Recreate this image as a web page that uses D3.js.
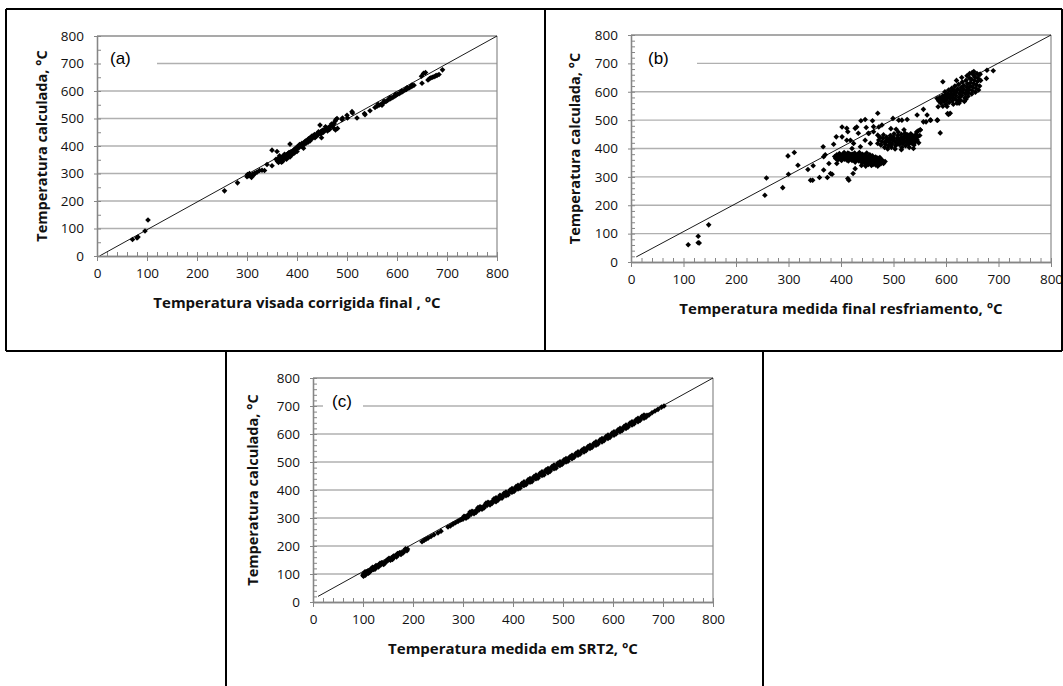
<!DOCTYPE html>
<html>
<head>
<meta charset="utf-8">
<script src="https://cdn.jsdelivr.net/npm/d3@7"></script>
<style>
  body { margin: 0; background: #fff; }
  svg { display: block; }
</style>
</head>
<body>
<svg id="chart" width="1063" height="686"></svg>
<script>
// tick values shared by the three panels
var xTicks = [0, 100, 200, 300, 400, 500, 600, 700, 800];
var yTicks = [0, 100, 200, 300, 400, 500, 600, 700, 800];

// (a) temperatura visada corrigida final vs calculada
var aPoints = [
  [71,60],[80,66],[82,69],[96,91],[102,131],[255,237],[281,266],
  [300,288],[301,296],[303,292],[305,300],[307,290],[309,286],[310,294],[312,298],[314,296],[316,302],
  [320,305],[325,311],[330,312],[335,311],[340,333],[350,385],[350,328],[358,352],[360,380],[361,345],
  [363,340],[364,356],[366,350],[368,346],[369,341],[370,360],[372,352],[374,362],[376,355],[378,365],
  [380,368],[382,372],[384,376],[386,360],[386,407],[388,366],[390,380],[392,378],[394,386],[396,390],
  [398,392],[400,380],[401,398],[403,400],[405,405],[407,402],[410,410],[413,392],[415,414],[417,418],
  [419,415],[421,421],[423,426],[425,428],[426,418],[428,432],[430,436],[432,434],[434,438],[436,430],
  [438,441],[440,444],[442,440],[444,448],[446,476],[447,452],[449,430],[450,455],[452,458],[454,457],
  [456,460],[458,463],[460,465],[462,462],[464,468],[466,470],[468,472],[470,474],[472,478],[474,482],
  [476,490],[477,458],[478,496],[480,500],[481,464],[490,496],[491,502],[500,512],[501,502],[510,525],
  [511,520],[520,502],[535,518],[536,514],[546,528],[556,540],[560,545],[564,548],[568,552],[570,548],
  [572,556],[575,560],[578,562],[581,566],[584,570],[587,572],[590,576],[593,578],[596,582],[598,585],
  [601,588],[604,590],[607,594],[610,597],[613,600],[616,604],[619,606],[622,610],[625,612],[628,616],
  [631,618],[634,621],[649,654],[650,628],[653,664],[657,667],[662,640],[665,645],[668,648],[671,650],
  [674,652],[677,655],[680,657],[684,660],[691,677],
  [365,364],[371,344],[375,370],[379,352],[383,362],[387,378],[391,370],[395,375],[399,388],[404,394],
  [409,400],[414,405],[418,410],[422,414],[427,424],[431,428],[435,442],[439,436],[443,452],[448,444],
  [453,450],[457,470],[461,455],[465,460],[469,480],[473,466],[562,552],[574,563],[586,576],[597,588],
  [609,600],[620,612],[630,622]
];

// (b) temperatura medida final resfriamento vs calculada
var bPoints = [
  [109,61],[128,91],[128,68],[130,67],[148,131],[255,235],[258,296],[289,262],[299,374],[300,309],
  [311,386],[318,341],[337,326],[342,288],[346,288],[347,339],[359,298],[366,406],[367,324],[367,371],
  [370,378],[374,298],[377,347],[380,312],[383,309],[386,415],[391,441],[392,347],
  [402,476],[402,441],[411,471],[413,459],[418,429],[427,471],[430,476],[438,498],[446,502],[460,498],
  [470,524],[453,453],[462,459],[472,476],[411,429],[421,400],[424,418],[437,406],[446,429],[456,418],
  [415,288],[413,294],[423,312],[427,329],[433,454],[448,474],[452,454],[462,477],[470,447],[478,483],
  // cluster near 370
  [388,372],[390,365],[392,378],[394,360],[395,370],[397,382],[398,366],[400,374],[401,358],[403,380],
  [404,368],[406,386],[407,362],[409,372],[410,378],[412,366],[413,384],[414,356],[416,374],[417,364],
  [419,380],[420,370],[421,358],[423,376],[424,366],[426,384],[427,352],[428,372],[430,362],[431,378],
  [433,368],[434,356],[435,386],[437,374],[438,362],[440,350],[441,380],[442,368],[444,358],[445,376],
  [446,346],[448,366],[449,384],[450,354],[452,372],[453,362],[455,378],[456,348],[457,368],[459,358],
  [460,374],[461,344],[463,364],[464,352],[466,370],[467,360],[469,348],[470,366],[472,356],[473,344],
  [475,362],[477,352],[479,358],[481,347],[484,354],[399,362],[405,376],[411,360],[415,382],[418,368],
  [422,380],[425,360],[429,368],[432,374],[436,366],[439,372],[443,362],[447,370],[451,366],[454,358],
  [458,364],[462,368],[465,358],[468,362],[471,350],[474,368],[476,346],[396,376],[408,370],[439,340],
  [447,338],[452,344],[458,340],[466,342],[470,338],
  // cluster near 430
  [470,418],[472,430],[474,440],[476,412],[478,424],[480,436],[481,448],[483,404],[484,416],[486,428],
  [487,440],[489,398],[490,410],[492,422],[493,434],[494,446],[496,404],[497,416],[499,428],[500,440],
  [501,452],[503,398],[504,410],[505,422],[507,434],[508,446],[509,458],[511,414],[512,426],[514,438],
  [515,450],[516,404],[518,418],[519,430],[520,442],[522,454],[523,410],[525,424],[526,436],[527,448],
  [529,416],[530,428],[532,440],[533,452],[534,420],[536,432],[537,444],[539,412],[540,426],[541,438],
  [543,450],[545,430],[546,442],[548,420],[550,446],[485,422],[491,430],[495,418],[498,436],[502,426],
  [506,416],[510,432],[513,420],[517,436],[521,426],[524,442],[528,432],[531,420],[535,446],[538,436],
  [542,424],[544,458],[547,462],[551,466],[495,470],[505,468],[520,466],[515,396],[530,404],[538,400],
  [499,506],[510,500],[516,500],[526,502],[545,441],[551,465],[557,494],[564,518],[570,500],[583,500],
  [589,455],[557,538],[545,518],[562,494],[571,500],[584,500],
  // cluster near 600
  [583,576],[585,547],[594,635],[594,549],[603,523],[605,520],[608,524],
  [586,568],[588,580],[590,560],[592,574],[594,586],[596,566],[597,578],[599,590],[600,556],[601,570],
  [603,582],[604,594],[606,562],[607,576],[609,588],[610,600],[612,568],[613,580],[615,592],[616,604],
  [618,574],[619,586],[620,598],[622,610],[623,568],[625,580],[626,592],[627,604],[629,616],[630,586],
  [632,598],[633,610],[634,622],[636,578],[637,592],[639,604],[640,616],[641,628],[643,596],[644,608],
  [646,620],[647,632],[648,644],[650,604],[651,616],[653,628],[654,640],[655,652],[657,612],[658,624],
  [660,636],[661,648],[663,660],[664,620],[666,640],[598,600],[605,606],[611,612],[617,620],[624,626],
  [631,634],[638,640],[645,648],[652,660],[659,664],[602,548],[614,556],[621,560],[628,570],[635,566],
  [642,584],[649,592],[656,598],[662,606],[620,640],[630,650],[640,656],[650,668],[653,671],[645,664],
  [625,560],[638,574],[665,662],[677,647],[678,676],[690,674]
];

// (c) temperatura medida em SRT2 vs calculada
var cPoints = [
  [100,95],[101,100],[102,97],[103,103],[104,99],[106,102],[108,104],[110,107],[112,110],[114,111],
  [116,114],[118,115],[120,118],[122,121],[125,122],[127,126],[130,128],[133,131],[136,133],[139,138],
  [142,140],[145,144],[148,146],[151,150],[154,152],[157,156],[160,158],[163,162],[166,164],[170,168],
  [174,172],[178,177],[182,180],[186,186],[188,183],[189,189],
  [101,92],[105,96],[109,110],[113,106],[117,119],[121,116],[126,130],[131,125],[137,140],[143,137],
  [149,152],[155,149],[161,164],[167,161],[173,176],[180,175],[185,190],
  [218,215],[222,220],[226,224],[230,228],[236,234],[242,240],[250,247],[256,253],[270,268],[275,272],
  [280,278],[285,283],[290,288],[294,292],[297,295],
  [300,296],[304,305],[308,306],[312,314],[316,313],[320,322],[324,321],[328,330],[332,329],[336,338],
  [340,337],[344,346],[348,345],[352,354],[356,353],[360,362],[364,361],[368,370],[372,369],[376,378],
  [380,377],[384,386],[388,385],[392,394],[396,393],[400,402],[404,401],[408,410],[412,409],[416,418],
  [420,417],[424,426],[428,425],[432,434],[436,433],[440,442],[444,441],[448,450],[452,449],[456,458],
  [460,457],[464,466],[468,465],[472,474],[476,473],[480,482],[484,481],[488,490],[492,489],[496,498],
  [500,497],[504,506],[508,505],[512,514],[516,515],[520,521],[524,523],[528,529],[532,531],[536,537],
  [540,539],[544,545],[548,547],[552,553],[556,555],[560,561],[564,563],[568,569],[572,571],[576,577],
  [580,579],[584,585],[588,587],[592,593],[596,595],[600,601],[604,603],[608,609],[612,611],[616,617],
  [620,619],[624,625],[628,627],[632,633],[636,635],[640,641],[644,643],[648,649],[652,651],[656,657],
  [660,659],[664,665],[668,667],
  [306,299],[314,321],[322,315],[330,337],[338,331],[346,353],[354,347],[362,369],[366,358],[374,381],
  [378,371],[386,393],[390,382],[398,405],[402,395],[410,417],[414,406],[422,429],[426,419],[434,441],
  [438,430],[446,453],[450,442],[458,465],[462,454],[470,477],[474,466],[482,489],[486,478],[494,501],
  [498,491],[506,512],[510,503],[518,524],[522,516],[530,536],[534,528],[542,548],[546,540],[554,560],
  [558,552],[566,572],[570,564],[578,584],[582,576],[590,596],[594,588],[602,608],[606,600],[614,620],
  [618,612],[626,632],[630,624],[638,644],[642,636],[650,656],[654,648],[662,668],[666,660],
  [302,306],[310,304],[318,324],[326,320],[334,340],[342,336],[350,356],[358,352],[366,372],[370,364],
  [374,372],[382,388],[386,380],[394,400],[398,392],[406,412],[410,404],[418,424],[422,416],[430,436],
  [434,428],[442,448],[446,440],[454,460],[458,452],[466,472],[470,462],[478,484],[482,476],[490,496],
  [494,488],[502,508],[506,500],[514,519],[518,512],[526,531],[530,524],[538,543],[542,536],[550,555],
  [554,548],[562,567],[566,560],[574,579],[578,572],[586,591],[590,584],[598,603],[602,596],[610,615],
  [614,608],[622,627],[626,620],[634,639],[638,632],[646,651],[650,644],[658,663],[662,656],
  [104,108],[111,103],[119,124],[124,117],[134,138],[141,134],[152,156],[159,152],[169,173],[176,170],
  [672,668],[678,676],[684,682],[690,688],[697,696],[702,700]
];

// reference lines (y = x)
var aLine = [[5,0],[800,800]];
var bLine = [[10,18],[800,800]];
var cLine = [[10,20],[800,800]];

var svg = d3.select("#chart");
svg.append("rect").attr("width", 1063).attr("height", 686).attr("fill", "#fff");

var diamond = "M0,-2.8L2.8,0L0,2.8L-2.8,0Z";

function panel(p) {
  var x = d3.scaleLinear().domain([0, 800]).range([p.left, p.left + p.width]);
  var y = d3.scaleLinear().domain([0, 800]).range([p.top + p.height, p.top]);
  var g = svg.append("g");

  // gridlines
  g.selectAll(".grid").data(yTicks.slice(1, -1)).enter().append("line")
    .attr("x1", p.left).attr("x2", p.left + p.width)
    .attr("y1", function(d) { return y(d); }).attr("y2", function(d) { return y(d); })
    .attr("stroke", "#b0b0b0").attr("stroke-width", 1.3);
  // plot border top / right
  g.append("line").attr("x1", p.left).attr("x2", p.left + p.width)
    .attr("y1", y(800)).attr("y2", y(800)).attr("stroke", "#555").attr("stroke-width", 1.2);
  g.append("line").attr("x1", x(800)).attr("x2", x(800))
    .attr("y1", y(800)).attr("y2", y(0)).attr("stroke", "#8a8a8a").attr("stroke-width", 1.2);

  // label box
  g.append("rect").attr("x", p.gapX0).attr("y", y(700) - 3)
    .attr("width", p.gapX1 - p.gapX0).attr("height", 6).attr("fill", "#fff");
  g.append("text").attr("x", p.labelX).attr("y", p.labelY)
    .attr("font-family", "Liberation Sans, Arial, sans-serif").attr("font-size", 17)
    .attr("fill", "#000").text(p.label);

  // diagonal
  g.append("path").datum(p.line)
    .attr("d", d3.line().x(function(d) { return x(d[0]); }).y(function(d) { return y(d[1]); }))
    .attr("stroke", "#000").attr("stroke-width", 0.9).attr("fill", "none");

  // points
  g.selectAll(".pt").data(p.points).enter().append("path")
    .attr("d", diamond)
    .attr("transform", function(d) { return "translate(" + x(d[0]) + "," + y(d[1]) + ")"; })
    .attr("fill", "#000");

  // axes
  var minorX = d3.range(0, 801, 20);
  var minorY = d3.range(0, 801, p.minorY);
  var xa = g.append("g").attr("transform", "translate(0," + y(0) + ")");
  xa.call(d3.axisBottom(x).tickValues(minorX).tickSize(-4).tickSizeOuter(0).tickFormat(""));
  xa.call(function(s) {
    s.append("g").call(d3.axisBottom(x).tickValues(xTicks).tickSize(5).tickSizeOuter(0));
  });
  var ya = g.append("g").attr("transform", "translate(" + x(0) + ",0)");
  ya.call(d3.axisLeft(y).tickValues(minorY).tickSize(-4).tickSizeOuter(0).tickFormat(""));
  ya.call(function(s) {
    s.append("g").call(d3.axisLeft(y).tickValues(yTicks).tickSize(3).tickSizeOuter(0));
  });
  g.selectAll(".domain").attr("stroke", "#868686").attr("stroke-width", 1.3);
  g.selectAll(".tick line").attr("stroke", "#868686");
  g.selectAll(".tick text").attr("font-family", "Open Sans, sans-serif").attr("font-size", 13.5)
    .attr("fill", "#111");
  xa.selectAll(".tick text").attr("dy", null).attr("y", 22);
  ya.selectAll(".tick text").attr("x", -13);

  // titles
  g.append("text").attr("x", p.left + p.width / 2).attr("y", y(0) + 52)
    .attr("text-anchor", "middle").attr("font-family", "Open Sans, sans-serif")
    .attr("font-weight", "bold").attr("font-size", 15).attr("fill", "#111").text(p.xTitle);
  g.append("text")
    .attr("transform", "translate(" + (p.left - p.yTitleOff) + "," + (p.top + p.height / 2) + ") rotate(-90)")
    .attr("text-anchor", "middle").attr("font-family", "Open Sans, sans-serif")
    .attr("font-weight", "bold").attr("font-size", 14.5).attr("fill", "#111").text("Temperatura calculada, °C");
}

panel({ left: 97, top: 36, width: 400, height: 220, points: aPoints, line: aLine, minorY: 50,
  label: "(a)", labelX: 110, labelY: 64, gapX0: 98, gapX1: 157, yTitleOff: 50,
  xTitle: "Temperatura visada corrigida final , °C" });
panel({ left: 631, top: 35, width: 420, height: 227, points: bPoints, line: bLine, minorY: 20,
  label: "(b)", labelX: 648, labelY: 64, gapX0: 632, gapX1: 697, yTitleOff: 51,
  xTitle: "Temperatura medida final resfriamento, °C" });
panel({ left: 313, top: 378, width: 400, height: 224, points: cPoints, line: cLine, minorY: 20,
  label: "(c)", labelX: 332, labelY: 407, gapX0: 323, gapX1: 363, yTitleOff: 55,
  xTitle: "Temperatura medida em SRT2, °C" });

// frame around the panels
var frame = [
  [6, 9, 1062, 9], [6, 351, 1062, 351], [6, 9, 6, 351], [545, 9, 545, 351], [1062, 9, 1062, 351],
  [226, 351, 226, 686], [763, 351, 763, 686]
];
svg.selectAll(".frame").data(frame).enter().append("line")
  .attr("x1", function(d) { return d[0]; }).attr("y1", function(d) { return d[1]; })
  .attr("x2", function(d) { return d[2]; }).attr("y2", function(d) { return d[3]; })
  .attr("stroke", "#000").attr("stroke-width", 2);
</script>
</body>
</html>
